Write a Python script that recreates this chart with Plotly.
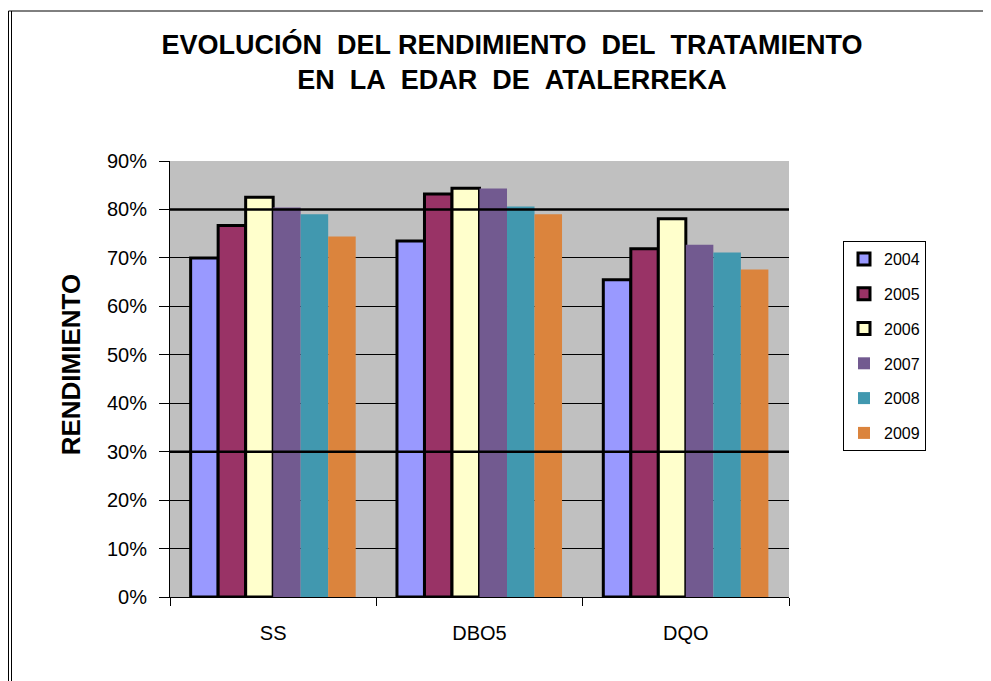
import plotly.graph_objects as go

categories = ["SS", "DBO5", "DQO"]
years = ["2004", "2005", "2006", "2007", "2008", "2009"]
v2004 = [0.700, 0.735, 0.655]
v2005 = [0.767, 0.832, 0.719]
v2006 = [0.825, 0.844, 0.781]
v2007 = [0.804, 0.843, 0.727]
v2008 = [0.790, 0.806, 0.711]
v2009 = [0.744, 0.790, 0.676]
series = [v2004, v2005, v2006, v2007, v2008, v2009]
colors = ["#9999FF", "#993366", "#FFFFCC", "#725A90", "#4198AF", "#DB843D"]
outlined = [True, True, True, False, False, False]
y_ticks = [0, 0.1, 0.2, 0.3, 0.4, 0.5, 0.6, 0.7, 0.8, 0.9]

FONT = "Liberation Sans, Arial, sans-serif"
NB = "\u00a0"

fig = go.Figure()
for name, vals, col, ol in zip(years, series, colors, outlined):
    fig.add_trace(go.Bar(
        name=name, x=categories, y=vals, legendgroup=name,
        marker=dict(color=col, line=dict(color="black", width=3 if ol else 0)),
    ))

OFF = 8  # page body margin
W, H = 991 - OFF, 681 - OFF
L, T = 170 - OFF, 161 - OFF
R = W - (789 - OFF)
B = H - (597 - OFF)
pw, ph = W - L - R, H - T - B

px = lambda s: (s - OFF - L) / pw
py = lambda s: (H - B - (s - OFF)) / ph

shapes = []
for yv in (0.8, 0.3):
    shapes.append(dict(type="line", xref="paper", yref="y", x0=0, x1=1, y0=yv, y1=yv,
                       line=dict(color="black", width=2.5)))
shapes.append(dict(type="line", xref="paper", yref="paper", x0=px(8.5), x1=px(995), y0=py(11), y1=py(11),
                   line=dict(color="black", width=1)))
shapes.append(dict(type="line", xref="paper", yref="paper", x0=px(8.5), x1=px(8.5), y0=py(11), y1=py(690),
                   line=dict(color="black", width=1)))
shapes.append(dict(type="line", xref="paper", yref="paper", x0=px(11.5), x1=px(11.5), y0=py(11), y1=py(690),
                   line=dict(color="black", width=1)))

title_text = ("<b>EVOLUCIÓN" + NB * 2 + "DEL RENDIMIENTO" + NB * 2 + "DEL" + NB * 2 + "TRATAMIENTO<br>"
              "EN" + NB * 2 + "LA" + NB * 2 + "EDAR" + NB * 2 + "DE" + NB * 2 + "ATALERREKA</b>")

fig.update_layout(
    width=W, height=H,
    margin=dict(l=L, r=R, t=T, b=B),
    paper_bgcolor="white", plot_bgcolor="#C0C0C0",
    barmode="group", bargap=0.2, bargroupgap=0,
    font=dict(family=FONT, color="black"),
    title=dict(text=title_text,
               x=(512 - OFF) / W, xanchor="center", y=1 - 46 / H, yanchor="top",
               font=dict(size=27, family=FONT, color="black")),
    xaxis=dict(showgrid=False, showline=True, linecolor="black", linewidth=1,
               ticks="outside", tickson="boundaries", ticklen=8, tickcolor="black",
               ticklabelstandoff=18,
               tickfont=dict(size=20, family=FONT), mirror=False),
    yaxis=dict(range=[0, 0.9], tickvals=y_ticks, tickformat=".0%",
               showgrid=True, gridcolor="black", gridwidth=1,
               showline=True, linecolor="black", linewidth=1,
               ticks="outside", ticklen=10, tickcolor="black",
               ticklabelstandoff=8,
               tickfont=dict(size=20, family=FONT),
               title=dict(text="<b>" + NB * 4 + "RENDIMIENTO</b>", font=dict(size=26, family=FONT), standoff=18),
               zeroline=False),
    legend=dict(x=px(843), y=py(241), xanchor="left", yanchor="top",
                bordercolor="black", borderwidth=1, bgcolor="white",
                font=dict(size=16, family=FONT), tracegroupgap=11,
                itemwidth=30),
    shapes=shapes,
    showlegend=True,
)

fig.write_html("out.html")
